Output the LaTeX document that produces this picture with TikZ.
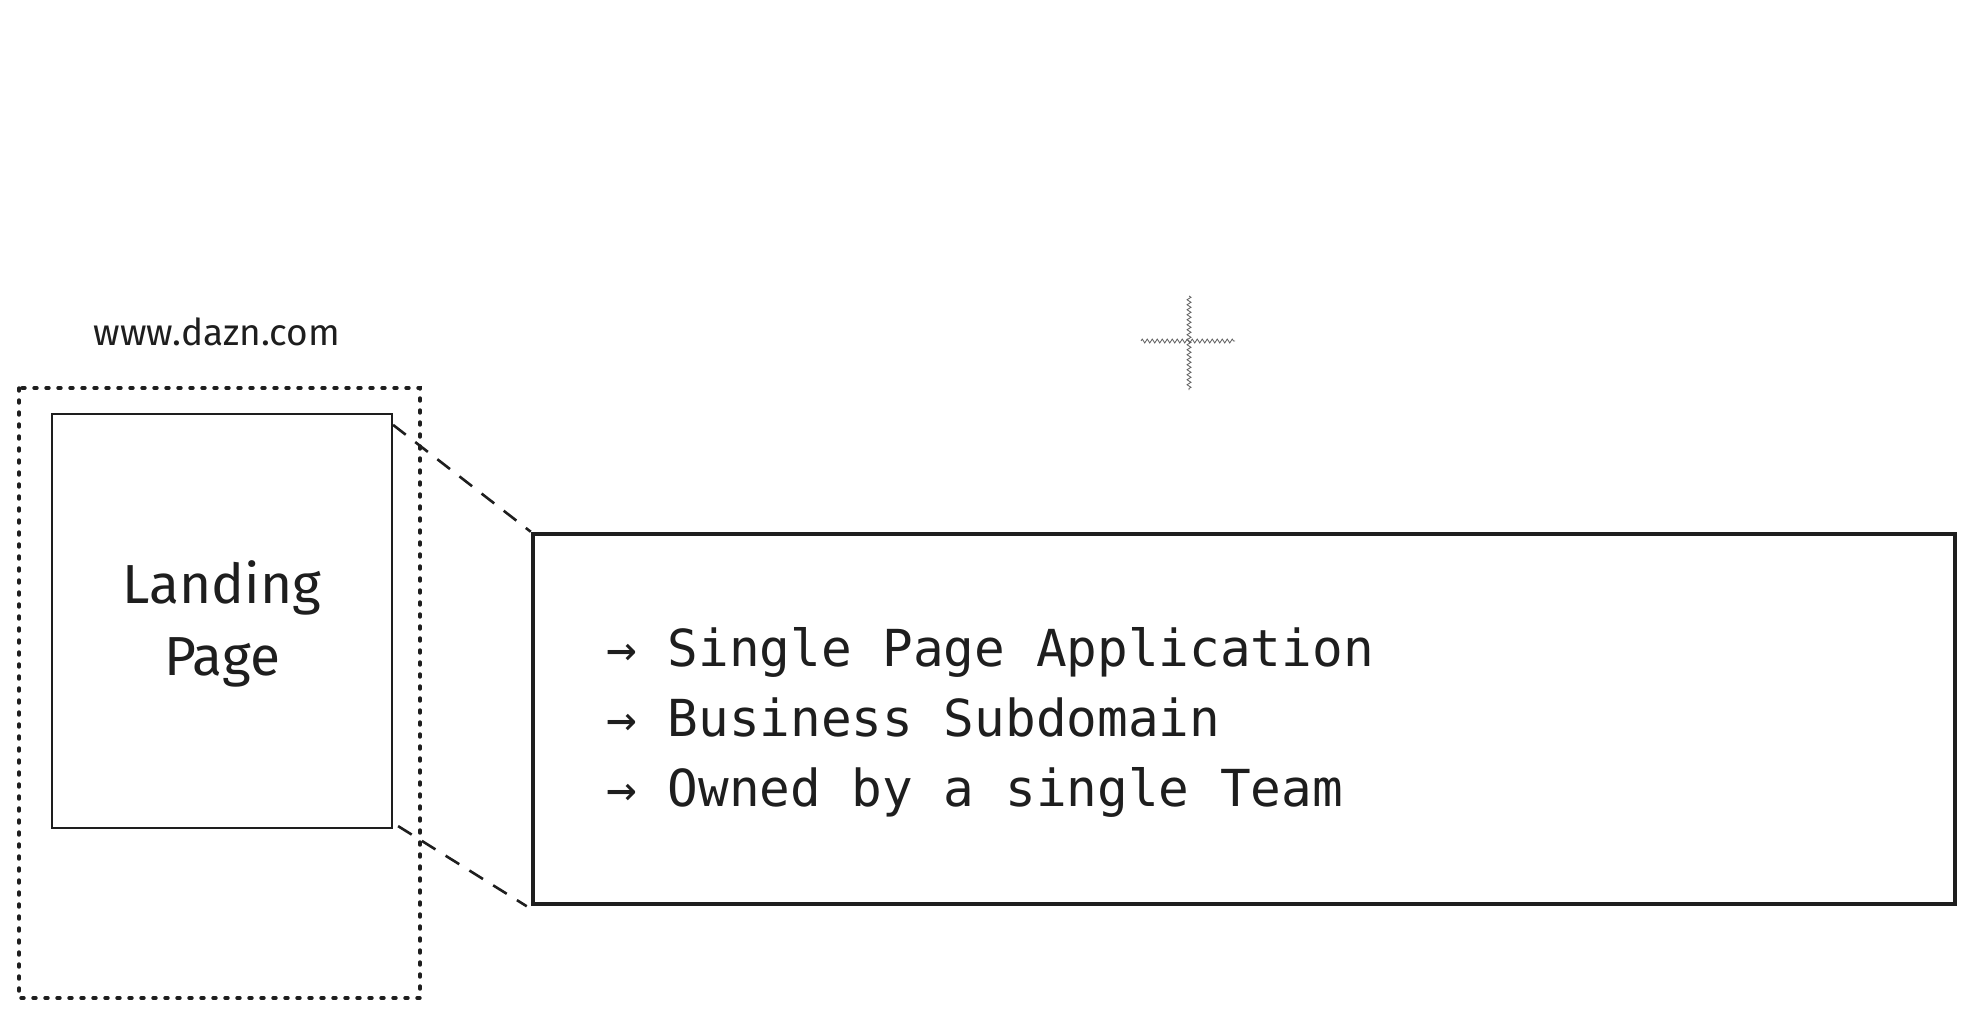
\documentclass[tikz,border=0pt]{standalone}
\usepackage{fontspec}
\setmainfont{Fira Sans}
\setmonofont{DejaVu Sans Mono}
\usetikzlibrary{decorations.pathmorphing}
\definecolor{ink}{HTML}{1E1E1E}
\tikzset{
  hand/.style={font=\fontsize{#1}{72}\selectfont, text=ink, inner sep=0pt},
  listline/.style={font=\ttfamily\fontsize{51}{70}\selectfont, text=ink, inner sep=0pt, anchor=base west},
  pagebox/.style={draw=ink, line width=2.2pt, inner sep=0pt},
  bigbox/.style={draw=ink, line width=4.5pt, inner sep=0pt},
  dotbox/.style={draw=ink, line width=3.4pt, dash pattern=on 3pt off 9pt, line cap=round},
  zoomline/.style={draw=ink, line width=2.6pt, dash pattern=on 16pt off 12pt},
  crossline/.style={draw=ink!70, line width=0.8pt, decorate, decoration={zigzag, amplitude=2pt, segment length=5pt}}
}
\begin{document}
\begin{tikzpicture}[x=1pt,y=-1pt]
\useasboundingbox[fill=white] (0,0) rectangle (1974,1018);
% dotted frame
\path[dotbox] (19,388) rectangle (420,998);
% url label
\node[hand=37] (url) at (217,332) {www.dazn.com};
% landing page box
\node[pagebox, minimum width=340pt, minimum height=414pt] (landing) at (222,621) {};
\node[hand=55, align=center] (ltext) at (222,624) {Landing\\Page};
% big box
\node[bigbox, minimum width=1422pt, minimum height=370pt] (big) at (1244,719) {};
% zoom lines
\draw[zoomline] ([yshift=-12pt]landing.north east) -- (big.north west);
\draw[zoomline] ([xshift=5pt,yshift=3pt]landing.south east) -- ([xshift=-4pt]big.south west);
% list
\node[listline] (l1) at (606,666) {→ Single Page Application};
\node[listline] (l2) at (606,736) {→ Business Subdomain};
\node[listline] (l3) at (606,806) {→ Owned by a single Team};
% small wavy cross
\coordinate (cl) at (1141,341);
\coordinate (cr) at (1235,341);
\coordinate (ct) at (1189,296);
\coordinate (cb) at (1189,390);
\path[crossline] (cl) -- (cr);
\path[crossline] (ct) -- (cb);
\end{tikzpicture}
\end{document}
